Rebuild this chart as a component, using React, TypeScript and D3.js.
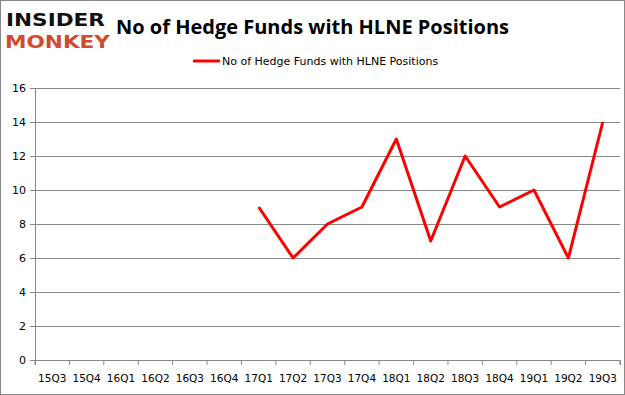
import { useEffect, useRef } from 'react'
import * as d3 from 'd3'

const QUARTERS = ['15Q3', '15Q4', '16Q1', '16Q2', '16Q3', '16Q4', '17Q1', '17Q2', '17Q3',
  '17Q4', '18Q1', '18Q2', '18Q3', '18Q4', '19Q1', '19Q2', '19Q3']
const FUNDS: (number | null)[] = [null, null, null, null, null, null, 9, 6, 8, 9, 13, 7, 12, 9, 10, 6, 14]
const Y_TICKS = [0, 2, 4, 6, 8, 10, 12, 14, 16]
const SERIES = 'No of Hedge Funds with HLNE Positions'

export default function App() {
  const svgRef = useRef<SVGSVGElement>(null)

  useEffect(() => {
    const el = svgRef.current
    if (!el) return
    const width = 625
    const height = 395
    const margin = { top: 88, right: 5, bottom: 35, left: 35 }
    const innerW = width - margin.left - margin.right
    const innerH = height - margin.top - margin.bottom

    const svg = d3.select(el)
    svg.selectAll('*').remove()

    svg.append('rect').attr('x', 0.5).attr('y', 0.5).attr('width', width - 1).attr('height', height - 1)
      .attr('fill', '#fff').attr('stroke', '#888')

    // Logo
    svg.append('text').attr('x', 6).attr('y', 26).text('INSIDER')
      .attr('font-family', 'DejaVu Sans').attr('font-weight', 'bold').attr('font-size', 18)
      .attr('fill', '#111').attr('textLength', 99).attr('lengthAdjust', 'spacingAndGlyphs')
    svg.append('text').attr('x', 5).attr('y', 48).text('MONKEY')
      .attr('font-family', 'DejaVu Sans').attr('font-weight', 'bold').attr('font-size', 18)
      .attr('fill', '#d14a2f').attr('textLength', 105).attr('lengthAdjust', 'spacingAndGlyphs')

    svg.append('text').attr('x', 116).attr('y', 34).text(SERIES)
      .attr('font-family', 'Open Sans, Liberation Sans, sans-serif').attr('font-weight', 'bold')
      .attr('font-size', 20).attr('fill', '#000')

    // Legend
    svg.append('line').attr('x1', 193).attr('x2', 220).attr('y1', 61).attr('y2', 61)
      .attr('stroke', '#ff0000').attr('stroke-width', 3)
    svg.append('text').attr('x', 222).attr('y', 65).text(SERIES)
      .attr('font-family', 'DejaVu Sans').attr('font-size', 11).attr('fill', '#000')

    const g = svg.append('g').attr('transform', `translate(${margin.left},${margin.top})`)

    const x = d3.scaleBand().domain(QUARTERS).range([0, innerW])
    const y = d3.scaleLinear().domain([0, 16]).range([innerH, 0])

    // Grid lines
    g.append('g')
      .call(d3.axisLeft(y).tickValues(Y_TICKS).tickSize(-innerW).tickFormat(() => ''))
      .call((ax) => { ax.select('.domain').remove(); ax.selectAll('line').attr('stroke', '#888') })

    g.append('g')
      .call(d3.axisLeft(y).tickValues(Y_TICKS).tickSize(5).tickPadding(4))
      .call((ax) => { ax.select('.domain').attr('stroke', '#888'); ax.selectAll('line').attr('stroke', '#888') })
      .selectAll('text').attr('fill', '#000').style('font-size', '11px').style('font-family', 'DejaVu Sans')

    const xAxis = g.append('g').attr('transform', `translate(0,${innerH})`)
      .call(d3.axisBottom(x).tickSize(5).tickPadding(10))
      .call((ax) => { ax.select('.domain').attr('stroke', '#888') })
    xAxis.selectAll('.tick line').remove()
    xAxis.selectAll('text').attr('fill', '#000').style('font-size', '10.5px').style('font-family', 'DejaVu Sans')
    // ticks between categories
    xAxis.selectAll('line.sep').data(QUARTERS.concat(['end']))
      .enter().append('line').attr('class', 'sep')
      .attr('x1', (_, i) => i * x.step()).attr('x2', (_, i) => i * x.step())
      .attr('y1', 0).attr('y2', 5).attr('stroke', '#888')

    const line = d3.line<number | null>()
      .defined((d) => d != null)
      .x((_, i) => (x(QUARTERS[i]) ?? 0) + x.bandwidth() / 2)
      .y((d) => y(d as number))

    g.append('path').datum(FUNDS).attr('d', line).attr('fill', 'none')
      .attr('stroke', '#ff0000').attr('stroke-width', 3).attr('stroke-linejoin', 'round')
  }, [])

  return (
    <svg ref={svgRef} width={625} height={395} style={{ position: 'absolute', left: 0, top: 0 }} />
  )
}
